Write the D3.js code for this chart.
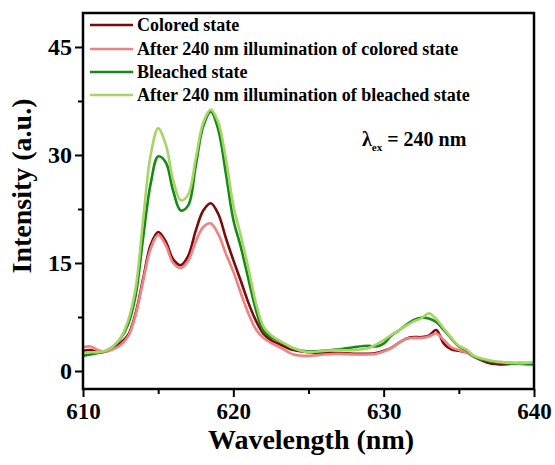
<!DOCTYPE html>
<html>
<head>
<meta charset="utf-8">
<script src="https://cdn.jsdelivr.net/npm/d3@7"></script>
<style>
  body { margin: 0; background: #fff; }
  text { font-family: "Liberation Serif", "Times New Roman", serif; font-weight: bold; fill: #000; }
</style>
</head>
<body>
<div id="my_dataviz"></div>
<script>
// Data
var wavelength = [610, 610.5, 611, 611.5, 612, 612.5, 613, 613.5, 614, 614.5, 615, 615.5, 616, 616.5, 617, 617.5,
  618, 618.5, 619, 619.5, 620, 620.5, 621, 621.5, 622, 622.5, 623, 624, 625, 626, 627, 628, 629, 629.5,
  630, 630.5, 631, 631.5, 632, 632.5, 633, 633.5, 634, 634.5, 635, 635.5, 636, 637, 638, 639, 640];

var colored = [2.8, 2.9, 2.6, 2.7, 3.2, 3.9, 5.0, 8.0, 12.8, 17.5, 19.3, 18.0, 15.5, 14.7, 16.0, 19.5,
  22.3, 23.3, 21.8, 18.5, 15.4, 12.5, 9.5, 7.0, 5.2, 4.3, 3.8, 2.9, 2.6, 2.5, 2.5, 2.4, 2.4, 2.5,
  2.8, 3.2, 3.9, 4.5, 4.7, 4.7, 4.9, 5.7, 3.8, 3.0, 2.8, 2.6, 2.0, 1.1, 0.9, 1.1, 1.0];

var coloredAfter = [3.3, 3.4, 2.9, 2.7, 3.0, 3.6, 4.8, 7.8, 12.5, 17.0, 18.9, 17.5, 15.0, 14.3, 15.3, 18.0,
  20.0, 20.5, 19.0, 16.3, 13.8, 10.8, 8.0, 5.8, 4.6, 3.9, 3.4, 2.3, 2.1, 2.3, 2.4, 2.3, 2.3, 2.4,
  2.7, 3.2, 3.9, 4.5, 4.6, 4.6, 4.8, 5.2, 4.3, 3.3, 2.9, 2.6, 2.0, 1.4, 1.2, 1.1, 1.1];

var bleached = [2.1, 2.3, 2.5, 2.8, 3.4, 4.5, 6.5, 10.5, 18.5, 26.0, 29.8, 29.0, 25.0, 22.3, 23.0, 28.5,
  34.0, 36.0, 33.5, 27.5, 21.0, 17.2, 12.8, 8.5, 5.6, 4.7, 4.2, 3.1, 2.7, 2.8, 3.0, 3.3, 3.5, 3.4,
  3.8, 4.9, 5.6, 6.4, 7.1, 7.4, 7.3, 6.8, 5.7, 4.5, 3.4, 2.9, 2.0, 1.4, 1.1, 1.0, 0.9];

var bleachedAfter = [2.5, 2.6, 2.6, 2.8, 3.4, 4.6, 7.0, 11.5, 21.0, 30.0, 33.7, 31.5, 26.5, 23.7, 24.5, 29.5,
  34.5, 36.3, 34.5, 29.5, 23.0, 18.8, 14.3, 9.5, 6.2, 5.0, 4.3, 3.2, 2.6, 2.8, 2.9, 2.9, 3.2, 3.7,
  4.3, 5.0, 5.6, 6.3, 6.9, 7.3, 8.0, 7.2, 5.9, 4.6, 3.5, 3.0, 2.1, 1.5, 1.2, 1.1, 1.2];

var seriesNames = ["Colored state", "After 240 nm illumination of colored state",
  "Bleached state", "After 240 nm illumination of bleached state"];
var seriesValues = [colored, coloredAfter, bleached, bleachedAfter];
var seriesColors = ["#7b0a0a", "#f38080", "#168a16", "#a6d466"];

var xTicks = [610, 620, 630, 640];
var xMinor = [615, 625, 635];
var yTicks = [0, 15, 30, 45];
var yMinor = [7.5, 22.5, 37.5];

// Plot box (pixels)
var box = {left: 83, right: 534, top: 13, bottom: 389};

var svg = d3.select("#my_dataviz")
  .append("svg")
    .attr("width", 555)
    .attr("height", 465);

var x = d3.scaleLinear().domain([610, 640]).range([box.left, box.right]);
var y = d3.scaleLinear().domain([-2.5, 49.72]).range([box.bottom, box.top]);

// clip so curves stay inside the frame
svg.append("clipPath").attr("id", "clip")
  .append("rect")
    .attr("x", box.left).attr("y", box.top)
    .attr("width", box.right - box.left).attr("height", box.bottom - box.top);

// Curves
var line = d3.line()
  .x(function(d) { return x(d[0]); })
  .y(function(d) { return y(d[1]); })
  .curve(d3.curveCatmullRom.alpha(0.5));

svg.append("g")
  .attr("clip-path", "url(#clip)")
  .selectAll("path")
  .data(seriesValues)
  .enter()
  .append("path")
    .attr("d", function(vals) { return line(vals.map(function(v, i) { return [wavelength[i], v]; })); })
    .attr("fill", "none")
    .attr("stroke", function(d, i) { return seriesColors[i]; })
    .attr("stroke-width", 2.6)
    .attr("stroke-linejoin", "round");

// X axis (bottom) with minor ticks
var xAxis = svg.append("g")
  .attr("transform", "translate(0," + box.bottom + ")")
  .call(d3.axisBottom(x).tickValues(xTicks).tickSize(8).tickPadding(6).tickFormat(d3.format("d")));
svg.append("g")
  .attr("transform", "translate(0," + box.bottom + ")")
  .call(d3.axisBottom(x).tickValues(xMinor).tickSize(5).tickFormat(""));

// Y axis (left) with minor ticks
var yAxis = svg.append("g")
  .attr("transform", "translate(" + box.left + ",0)")
  .call(d3.axisLeft(y).tickValues(yTicks).tickSize(8).tickPadding(3).tickFormat(d3.format("d")));
svg.append("g")
  .attr("transform", "translate(" + box.left + ",0)")
  .call(d3.axisLeft(y).tickValues(yMinor).tickSize(5).tickFormat(""));

svg.selectAll(".domain").remove();
svg.selectAll(".tick line").attr("stroke", "#000").attr("stroke-width", 2);
xAxis.selectAll(".tick text").style("font-size", "23px");
yAxis.selectAll(".tick text").style("font-size", "24px");

// Frame
svg.append("rect")
  .attr("x", box.left).attr("y", box.top)
  .attr("width", box.right - box.left).attr("height", box.bottom - box.top)
  .attr("fill", "none")
  .attr("stroke", "#000")
  .attr("stroke-width", 2.5);

// Axis titles
svg.append("text")
  .attr("x", 311)
  .attr("y", 449)
  .attr("text-anchor", "middle")
  .style("font-size", "28px")
  .text("Wavelength (nm)");

svg.append("text")
  .attr("transform", "translate(31,186) rotate(-90)")
  .attr("text-anchor", "middle")
  .style("font-size", "28px")
  .text("Intensity (a.u.)");

// Legend
var rowY = [25, 49, 72, 95];
svg.selectAll("legendLines")
  .data(seriesNames)
  .enter()
  .append("line")
    .attr("x1", 90).attr("x2", 133)
    .attr("y1", function(d, i) { return rowY[i]; })
    .attr("y2", function(d, i) { return rowY[i]; })
    .attr("stroke", function(d, i) { return seriesColors[i]; })
    .attr("stroke-width", 2.6);

svg.selectAll("legendLabels")
  .data(seriesNames)
  .enter()
  .append("text")
    .attr("x", 137)
    .attr("y", function(d, i) { return rowY[i] + 6; })
    .style("font-size", "18px")
    .text(function(d) { return d; });

// Excitation note
var note = svg.append("text")
  .attr("x", 362)
  .attr("y", 146)
  .style("font-size", "20px");
note.append("tspan").text("\u03bb");
note.append("tspan").attr("dy", 5).style("font-size", "11px").text("ex");
note.append("tspan").attr("dy", -5).text(" = 240 nm");
</script>
</body>
</html>
